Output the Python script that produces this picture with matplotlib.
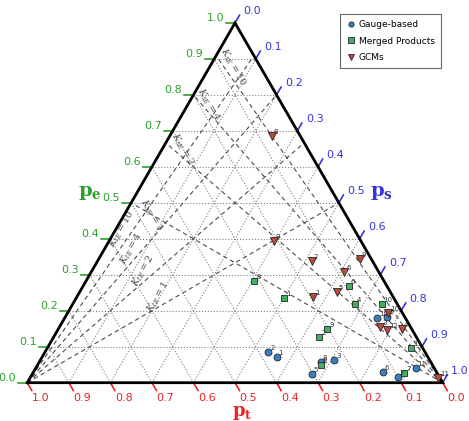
import numpy as np
import matplotlib
matplotlib.use("Agg")
import matplotlib.pyplot as plt

plt.rcParams['mathtext.fontset'] = 'dejavuserif'

# ternary values (pt, ps, pe)
gauge_pt = [0.364, 0.378, 0.230, 0.044, 0.303, 0.129, 0.100, 0.265, 0.069, 0.045]
gauge_ps = [0.564, 0.538, 0.707, 0.774, 0.673, 0.840, 0.883, 0.677, 0.752, 0.915]
gauge_pe = [0.072, 0.084, 0.063, 0.182, 0.024, 0.031, 0.017, 0.058, 0.179, 0.040]
gauge_lab = ['1', '2', '3', '4', '5', '6', '7', '8', '10', '11']

merged_pt = [0.264, 0.233, 0.312, 0.102, 0.091, 0.079, 0.269, 0.204, 0.038, 0.028]
merged_ps = [0.500, 0.639, 0.404, 0.680, 0.639, 0.893, 0.682, 0.648, 0.744, 0.875]
merged_pe = [0.236, 0.128, 0.284, 0.218, 0.270, 0.028, 0.049, 0.148, 0.218, 0.097]
merged_lab = ['1', '2', '3', '4', '6', '7', '8', '9', '10', '11']

gcm_pt = [0.192, 0.146, 0.074, 0.025, 0.129, 0.083, 0.069, 0.028, 0.209, 0.035, 0.005, 0.061]
gcm_ps = [0.569, 0.516, 0.772, 0.827, 0.618, 0.608, 0.245, 0.629, 0.396, 0.772, 0.982, 0.792]
gcm_pe = [0.239, 0.338, 0.154, 0.148, 0.253, 0.309, 0.686, 0.343, 0.395, 0.193, 0.013, 0.147]
gcm_lab = ['1', '2', '3', '4', '5', '6', '8', '9', '9', '10', '11', '12']

ticks = [0.0, 0.1, 0.2, 0.3, 0.4, 0.5, 0.6, 0.7, 0.8, 0.9, 1.0]
k_values = [10, 4, 2, 1]

# where the K labels sit (cartesian)
top_lab_xy = [(0.494, 0.759), (0.437, 0.671), (0.372, 0.563), (0.298, 0.403)]
bot_lab_xy = [(0.228, 0.370), (0.250, 0.322), (0.279, 0.269), (0.315, 0.206)]

H = np.sqrt(3) / 2
px = 1 / 415.4


def cart(pt, ps, pe):
    pt, ps, pe = np.asarray(pt), np.asarray(ps), np.asarray(pe)
    return ps + pe / 2.0, pe * H


fig = plt.figure(figsize=(4.69, 4.21), dpi=100)
ax = fig.add_axes([0, 0, 1, 1])
ax.set_xlim(-27.3 * px, (469 - 27.3) * px)
ax.set_ylim(-(421 - 382.7) * px, 382.7 * px)
ax.axis('off')

# dotted grid
for v in ticks[1:-1]:
    x, y = cart([1 - v, 0], [0, 1 - v], [v, v])
    ax.plot(x, y, ls=':', color='0.5', lw=0.8, zorder=1)
    x, y = cart([1 - v, 0], [v, v], [0, 1 - v])
    ax.plot(x, y, ls=':', color='0.5', lw=0.8, zorder=1)
    x, y = cart([v, v], [1 - v, 0], [0, 1 - v])
    ax.plot(x, y, ls=':', color='0.5', lw=0.8, zorder=1)

# constant ratio lines
for k, (lx, ly) in zip(k_values, top_lab_xy):
    e = k / (1.0 + k)
    x, y = cart([0, 1 - e], [1, 0], [0, e])
    ax.plot(x, y, ls='--', dashes=(4, 3), color='0.3', lw=0.8, zorder=2)
    ax.text(lx, ly, r'$K_{sE}=%d$' % k, rotation=-60, color='0.3',
            fontsize=7, ha='center', va='center', zorder=2)
for k, (lx, ly) in zip(k_values, bot_lab_xy):
    e = k / (1.0 + k)
    x, y = cart([1, 0], [0, 1 - e], [0, e])
    ax.plot(x, y, ls='--', dashes=(4, 3), color='0.3', lw=0.8, zorder=2)
    ax.text(lx, ly, r'$K_{tE}=%d$' % k, rotation=60, color='0.3',
            fontsize=7, ha='center', va='center', zorder=2)

# triangle
x, y = cart([1, 0, 0, 1], [0, 1, 0, 0], [0, 0, 1, 0])
ax.plot(x, y, color='black', lw=2, zorder=5, solid_joinstyle='miter')

tl = 9 * px
c60, s60 = 0.5, H
for v in ticks:
    # pe on left edge
    x, y = cart(1 - v, 0, v)
    ax.plot([x - tl, x], [y, y], color='#2ca02c', lw=1.2, zorder=4)
    ax.text(x - tl - 2 * px, y, '%.1f' % v, color='#2ca02c', fontsize=8,
            ha='right', va='bottom')
    # ps on right edge
    x, y = cart(0, v, 1 - v)
    ax.plot([x, x + tl * c60], [y, y + tl * s60], color='#3535dd', lw=1.2, zorder=4)
    ax.text(x + tl * c60 + 4 * px, y + tl * s60 - 1 * px, '%.1f' % v,
            color='#3535dd', fontsize=8, ha='left', va='bottom')
    # pt on bottom edge
    x, y = cart(v, 1 - v, 0)
    ax.plot([x, x + tl * c60], [y, y - tl * s60], color='#ee2222', lw=1.2, zorder=4)
    ax.text(x + tl * c60, y - tl * s60 - 3 * px, '%.1f' % v, color='#ee2222',
            fontsize=8, ha='left', va='top')

ax.text(90 * px - 27.3 * px, (382.7 - 192) * px, r'$\mathbf{p_e}$', color='#2ca02c',
        fontsize=14, ha='center', va='center')
ax.text(381 * px - 27.3 * px, (382.7 - 192) * px, r'$\mathbf{p_s}$', color='#3535dd',
        fontsize=14, ha='center', va='center')
ax.text(242 * px - 27.3 * px, (382.7 - 413) * px, r'$\mathbf{p_t}$', color='#ee2222',
        fontsize=13, ha='center', va='center')

series = [
    (gauge_pt, gauge_ps, gauge_pe, gauge_lab, 'o', '#3a80c0', 'Gauge-based', 5),
    (merged_pt, merged_ps, merged_pe, merged_lab, 's', '#40b060', 'Merged Products', 5),
    (gcm_pt, gcm_ps, gcm_pe, gcm_lab, 'v', '#c04a3a', 'GCMs', 5.5),
]
for pt, ps, pe, labs, mk, col, name, ms in series:
    x, y = cart(pt, ps, pe)
    ax.plot(x, y, ls='none', marker=mk, color=col, markersize=ms,
            markeredgecolor='0.15', markeredgewidth=0.6, label=name, zorder=6)
    for xi, yi, t in zip(x, y, labs):
        ax.text(xi + 2 * px, yi + 2 * px, t, fontsize=5, color='0.2', zorder=7)

leg = ax.legend(loc='upper right', bbox_to_anchor=(441 / 469, 1 - 14 / 421),
                bbox_transform=fig.transFigure, borderaxespad=0, fontsize=6.5,
                fancybox=False, framealpha=1, edgecolor='0.4', borderpad=0.7,
                labelspacing=0.8, handletextpad=0.4, handlelength=1.0,
                markerscale=0.75)
leg.get_frame().set_linewidth(0.8)

fig.savefig('out.png', dpi=100)
